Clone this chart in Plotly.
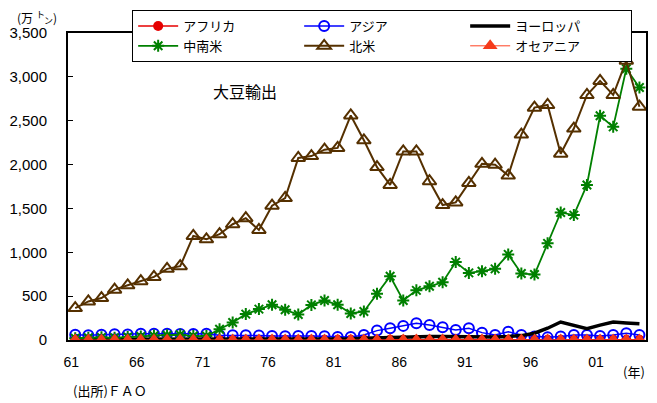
import plotly.graph_objects as go

years = list(range(1961, 2005))

africa = [3, 3, 3, 3, 3, 3, 3, 3, 3, 3, 3, 3, 3, 3, 3, 3, 3, 3, 3, 3, 3, 3,
          3, 3, 3, 3, 3, 3, 3, 3, 3, 3, 3, 3, 3, 3, 3, 3, 3, 3, 3, 3, 3, 3]

asia = [60, 55, 60, 65, 62, 70, 70, 72, 68, 68, 70,
        55, 55, 55, 52, 45, 42, 45, 45, 42, 35, 35,
        57, 107, 134, 161, 192, 172, 146, 115, 134, 84, 57, 95, 57,
        40, 30, 40, 57, 57, 45, 57, 77, 57]

europe = [8, 8, 8, 8, 8, 8, 8, 8, 8, 8, 8, 10, 10, 10, 10, 10, 12, 12, 12, 12, 15, 15,
          20, 25, 30, 35, 38, 40, 40, 38, 38, 35, 35, 40, 50,
          77, 134, 205, 165, 130, 170, 205, 195, 184]

csa = [20, 25, 30, 25, 35, 40, 50, 55, 60, 45, 45,
       123, 199, 295, 352, 402, 344, 290, 400, 450, 402, 302,
       325, 528, 727, 451, 566, 612, 658, 888, 765, 784, 811, 976, 758,
       746, 1102, 1454, 1424, 1768, 2557, 2430, 3092, 2878]

north_america = [364, 440, 478, 574, 624, 670, 719, 811, 842, 1186, 1148,
                 1206, 1320, 1389, 1255, 1531, 1619, 2075, 2097, 2170, 2190, 2560,
                 2277, 1971, 1768, 2150, 2150, 1810, 1538, 1569, 1791, 2009, 1998, 1875, 2342,
                 2649, 2679, 2124, 2411, 2793, 2954, 2793, 3184, 2660]

oceania = [0] * 44

tick_years = [1961, 1966, 1971, 1976, 1981, 1986, 1991, 1996, 2001]
tick_text = ["61", "66", "71", "76", "81", "86", "91", "96", "01"]

FONT = "Liberation Sans, Arial, Noto Sans CJK JP, sans-serif"
JFONT = "Noto Sans CJK JP, sans-serif"

fig = go.Figure()
fig.add_trace(go.Scatter(x=years, y=africa, name="アフリカ", mode="lines+markers",
                         line=dict(color="#E60000", width=1.5),
                         marker=dict(symbol="circle", size=10, color="#E60000")))
fig.add_trace(go.Scatter(x=years, y=asia, name="アジア", mode="lines+markers",
                         line=dict(color="#0000FF", width=1.5),
                         marker=dict(symbol="circle-open", size=10, color="#0000FF",
                                     line=dict(width=2, color="#0000FF"))))
fig.add_trace(go.Scatter(x=years, y=europe, name="ヨーロッパ", mode="lines",
                         line=dict(color="#000000", width=3.5)))
fig.add_trace(go.Scatter(x=years, y=csa, name="中南米", mode="lines+markers",
                         line=dict(color="#008000", width=1.8),
                         marker=dict(symbol="asterisk-open", size=10, color="#008000",
                                     line=dict(width=2, color="#008000"))))
fig.add_trace(go.Scatter(x=years, y=north_america, name="北米", mode="lines+markers",
                         line=dict(color="#553000", width=2),
                         marker=dict(symbol="triangle-up-open", size=12, color="#553000",
                                     line=dict(width=2, color="#553000"))))
fig.add_trace(go.Scatter(x=years, y=oceania, name="オセアニア", mode="lines+markers",
                         line=dict(color="#FF4020", width=1),
                         marker=dict(symbol="triangle-up", size=13, color="#F53A1A")))

# page body has an 8px default margin; figure is sized to fit the 657x403 window
fig.update_layout(
    width=649, height=395,
    margin=dict(l=60, r=11, t=25, b=63, autoexpand=False),
    paper_bgcolor="white", plot_bgcolor="white",
    font=dict(family=FONT, size=14, color="black"),
    showlegend=True,
    legend=dict(
        orientation="h", x=0.111, y=1.075, xanchor="left", yanchor="top",
        bgcolor="white", bordercolor="black", borderwidth=1,
        font=dict(family=JFONT, size=13, color="black"),
        itemwidth=40, entrywidth=111, entrywidthmode="pixels",
        traceorder="normal", tracegroupgap=0,
    ),
    xaxis=dict(
        range=[1960.45, 2004.5], tickmode="array", tickvals=tick_years, ticktext=tick_text,
        showgrid=False, zeroline=False, showline=True, linecolor="black", linewidth=2,
        mirror=True, ticks="", ticklabelstandoff=8, ticklabelshift=-4, automargin=False,
        tickfont=dict(family=FONT, size=14),
    ),
    yaxis=dict(
        range=[0, 3500], dtick=500, tickformat=",", showgrid=False, zeroline=False,
        showline=True, linecolor="black", linewidth=2, mirror=True, automargin=False,
        ticks="inside", ticklen=5, tickcolor="black", ticklabelstandoff=16,
        tickfont=dict(family=FONT, size=15),
    ),
)

fig.add_annotation(text="大豆輸出", xref="paper", yref="paper", x=0.306, y=0.811,
                   xanchor="center", yanchor="middle", showarrow=False,
                   font=dict(family=JFONT, size=16, color="black"))
# unit label "(万ﾄﾝ)" with small raised ト and lowered ン
unit_parts = [("(万", -0.0917, 1.0505, 12), ("ト", -0.0588, 1.059, 9),
              ("ン", -0.0450, 1.041, 9), (")", -0.0294, 1.0505, 12)]
for txt, ux, uy, us in unit_parts:
    fig.add_annotation(text=txt, xref="paper", yref="paper", x=ux, y=uy,
                       xanchor="left", yanchor="middle", showarrow=False,
                       font=dict(family=JFONT, size=us, color="black"))
fig.add_annotation(text="(年)", xref="paper", yref="paper", x=0.98, y=-0.101,
                   xanchor="center", yanchor="middle", showarrow=False,
                   font=dict(family=JFONT, size=13, color="black"))
fig.add_annotation(text="(出所)ＦＡＯ", xref="paper", yref="paper", x=0.005, y=-0.166,
                   xanchor="left", yanchor="middle", showarrow=False,
                   font=dict(family=JFONT, size=13, color="black"))

fig.write_html("out.html")
